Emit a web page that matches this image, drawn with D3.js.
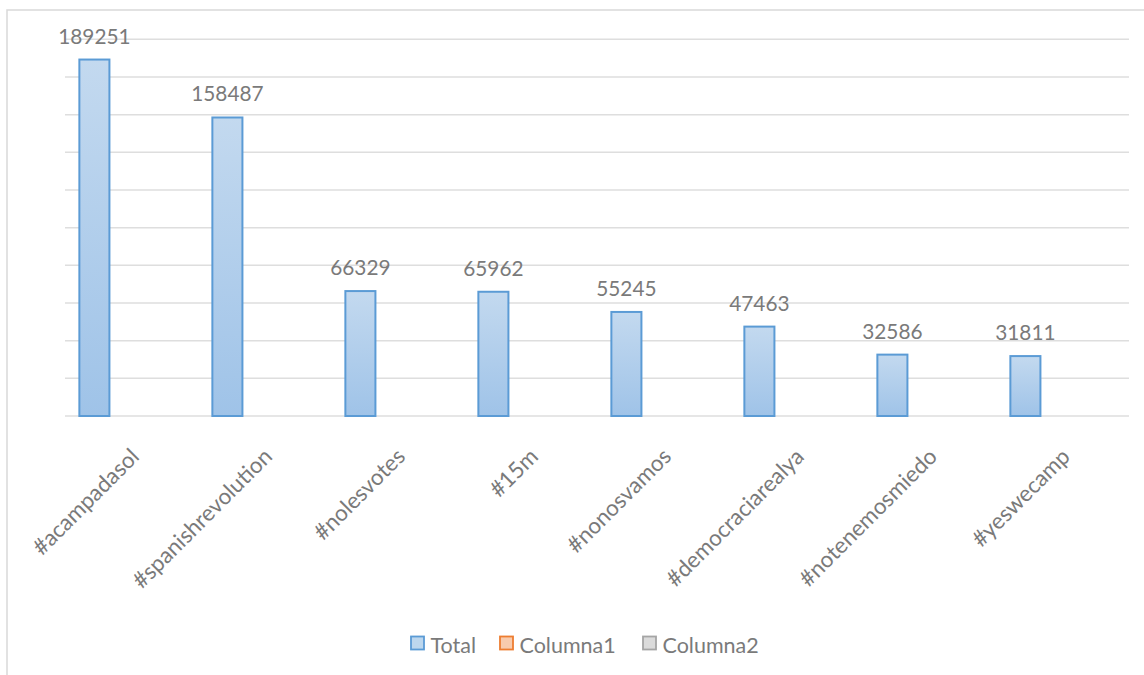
<!DOCTYPE html>
<html><head><meta charset="utf-8">
<script src="https://cdn.jsdelivr.net/npm/d3@7"></script>
<style>body{margin:0;background:#fff}svg{display:block}text{font-family:Lato,"Open Sans",sans-serif;fill:#7a7a7a}</style>
</head><body>
<svg id="c" width="1144" height="675"></svg>
<script>
const categories = ["#acampadasol","#spanishrevolution","#nolesvotes","#15m","#nonosvamos","#democraciarealya","#notenemosmiedo","#yeswecamp"];
const totalValues = [189251,158487,66329,65962,55245,47463,32586,31811];
const yTicks = [0,20000,40000,60000,80000,100000,120000,140000,160000,180000,200000];
const seriesNames = ["Total","Columna1","Columna2"];
const seriesFill = ["#bdd7ee","#f8cbad","#dbdbdb"];
const seriesStroke = ["#5b9bd5","#ed7d31","#a5a5a5"];

const svg = d3.select("#c");
const pLeft = 65, pRight = 1129, pTop = 39.3, pBottom = 416;

svg.append("rect").attr("x",7).attr("y",10).attr("width",1160).attr("height",700)
  .attr("fill","#fff").attr("stroke","#d9d9d9").attr("stroke-width",1.5);

const defs = svg.append("defs");
const g = defs.append("linearGradient").attr("id","bg").attr("x1",0).attr("y1",0).attr("x2",0).attr("y2",1);
g.append("stop").attr("offset","0%").attr("stop-color","#c3d9ef");
g.append("stop").attr("offset","100%").attr("stop-color","#9fc3e8");

const x = d3.scaleBand().domain(categories).range([pLeft,pRight]);
const y = d3.scaleLinear().domain([0,200000]).range([pBottom,pTop]);

svg.append("g").selectAll("line").data(yTicks).join("line")
  .attr("x1",pLeft).attr("x2",pRight)
  .attr("y1",d=>y(d)).attr("y2",d=>y(d))
  .attr("stroke","#dedede").attr("stroke-width",1.5);

const bw = x.bandwidth()*0.226, boff = x.bandwidth()*0.108;
const data = categories.map((c,i)=>({c,v:totalValues[i]}));
svg.append("g").selectAll("rect").data(data).join("rect")
  .attr("x",d=>x(d.c)+boff).attr("width",bw)
  .attr("y",d=>y(d.v)).attr("height",d=>pBottom-y(d.v))
  .attr("fill","url(#bg)").attr("stroke","#5b9bd5").attr("stroke-width",2);

svg.append("g").selectAll("text").data(data).join("text")
  .attr("x",d=>x(d.c)+boff+bw/2).attr("y",d=>y(d.v)-16)
  .attr("text-anchor","middle").style("font-size","20.8px")
  .text(d=>d.v);

svg.append("g").selectAll("text").data(categories).join("text")
  .attr("transform",d=>`translate(${x(d)+x.bandwidth()/2+9},${pBottom+42}) rotate(-45)`)
  .attr("text-anchor","end").style("font-size","22.4px")
  .text(d=>d);

const legX = [411,500,643];
const lg = svg.append("g");
seriesNames.forEach((n,i)=>{
  lg.append("rect").attr("x",legX[i]).attr("y",636.5).attr("width",13).attr("height",13)
    .attr("fill",seriesFill[i]).attr("stroke",seriesStroke[i]).attr("stroke-width",1.8);
  lg.append("text").attr("x",legX[i]+19.5).attr("y",653).style("font-size","21.5px").text(n);
});
</script>
</body></html>
